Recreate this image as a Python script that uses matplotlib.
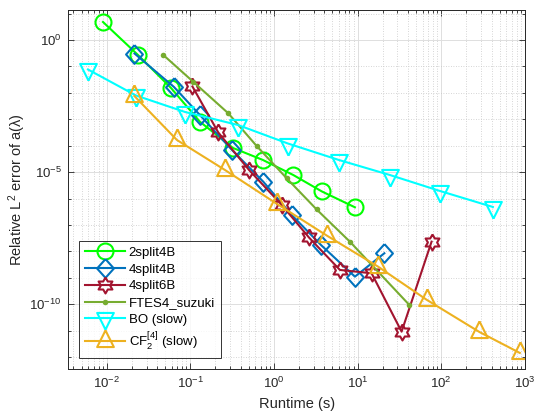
import numpy as np
import matplotlib
matplotlib.use('Agg')
import matplotlib.pyplot as plt
from matplotlib import ticker

plt.rcParams['font.family'] = ['Liberation Sans', 'DejaVu Sans']
plt.rcParams['mathtext.fontset'] = 'custom'
plt.rcParams['mathtext.rm'] = 'Liberation Sans'
plt.rcParams['mathtext.it'] = 'Liberation Sans:italic'
plt.rcParams['mathtext.bf'] = 'Liberation Sans:bold'

## DATA (runtime in s, relative error)
t_2split4B = [0.00903, 0.0237, 0.0587, 0.130, 0.324, 0.738, 1.70, 3.75, 9.29]
err_2split4B = [4.80, 0.270, 0.0153, 8.11e-4, 8.20e-5, 2.88e-5, 7.80e-6, 1.85e-6, 4.68e-7]

t_4split4B = [0.0215, 0.0637, 0.130, 0.315, 0.745, 1.63, 3.65, 9.29, 20.9]
err_4split4B = [0.308, 0.0167, 1.45e-3, 6.89e-5, 4.35e-6, 2.39e-7, 1.75e-8, 1.11e-9, 8.51e-9]

t_4split6B = [0.106, 0.216, 0.503, 1.24, 2.62, 6.15, 14.7, 33.6, 76.7]
err_4split6B = [0.0174, 3.16e-4, 1.21e-5, 5.71e-7, 3.37e-8, 1.99e-9, 1.49e-9, 9.19e-12, 2.34e-8]

t_ftes4 = [0.0475, 0.108, 0.284, 0.621, 1.42, 3.24, 8.09, 41.6]
err_ftes4 = [0.271, 0.0264, 1.69e-3, 9.75e-5, 5.85e-6, 3.86e-7, 2.34e-8, 9.4e-11]

t_bo = [0.00597, 0.0224, 0.0863, 0.371, 1.47, 5.98, 24.3, 96.4, 415]
err_bo = [0.0766, 7.94e-3, 1.89e-3, 6.08e-4, 1.21e-4, 2.88e-5, 7.80e-6, 1.94e-6, 4.80e-7]

t_cf = [0.0214, 0.0692, 0.259, 1.09, 4.36, 17.6, 67.4, 286, 871]
err_cf = [7.61e-3, 1.64e-4, 1.21e-5, 6.24e-7, 3.84e-8, 2.65e-9, 1.46e-10, 8.95e-12, 1.44e-12]

labels = ['2split4B', '4split4B', '4split6B', 'FTES4_suzuki', 'BO (slow)', r'CF$_2^{[4]}$ (slow)']

## MARKERS (matlab-like shapes, centroid at the data point, closed outlines)
ang = np.pi / 2 + np.arange(13) * np.pi / 6
rad = np.where(np.arange(13) % 2 == 0, 1.0, 1 / np.sqrt(3))
hexagram = list(zip(rad * np.cos(ang), rad * np.sin(ang)))
tri_up = [(0, 1), (-0.75, -0.5), (0.75, -0.5), (0, 1)]
tri_down = [(0, -1), (-0.75, 0.5), (0.75, 0.5), (0, -1)]
diamond = [(0, 1), (0.9, 0), (0, -1), (-0.9, 0), (0, 1)]

fig = plt.figure(figsize=(5.35, 4.2), dpi=100)
ax = fig.add_axes([0.128, 0.1214, 0.853, 0.8548])

lw = 1.5
ax.plot(t_2split4B, err_2split4B, color='#00FF00', lw=lw, marker='o', ms=11.5,
        mfc='none', mew=lw, label=labels[0])
ax.plot(t_4split4B, err_4split4B, color='#0072BD', lw=lw, marker=diamond, ms=13.5,
        mfc='none', mew=lw, label=labels[1])
ax.plot(t_4split6B, err_4split6B, color='#A2142F', lw=lw, marker=hexagram, ms=11.5,
        mfc='none', mew=lw, label=labels[2])
ax.plot(t_ftes4, err_ftes4, color='#77AC30', lw=lw, marker='o', ms=4,
        mfc='#77AC30', mew=0, label=labels[3])
ax.plot(t_bo, err_bo, color='#00FFFF', lw=lw, marker=tri_down, ms=16,
        mfc='none', mew=lw, label=labels[4])
ax.plot(t_cf, err_cf, color='#EDB120', lw=lw, marker=tri_up, ms=16,
        mfc='none', mew=lw, label=labels[5])

ax.set_xscale('log')
ax.set_yscale('log')
ax.set_xlim(10 ** -2.457, 1e3)
ax.set_ylim(10 ** -12.45, 10 ** 1.135)

ax.xaxis.set_major_locator(ticker.LogLocator(base=10, numticks=20))
ax.xaxis.set_minor_locator(ticker.LogLocator(base=10, subs=np.arange(2, 10), numticks=20))
ax.xaxis.set_minor_formatter(ticker.NullFormatter())
ax.yaxis.set_major_locator(ticker.LogLocator(base=1e5, numticks=20))
ax.yaxis.set_major_formatter(ticker.LogFormatterSciNotation(base=10))
ax.yaxis.set_minor_locator(ticker.LogLocator(base=10, subs=(1.0,), numticks=30))
ax.yaxis.set_minor_formatter(ticker.NullFormatter())

ax.grid(True, which='major', color='#dedede', lw=0.7, ls='-')
ax.grid(True, which='minor', color='#c8c8c8', lw=0.6, ls=(0, (1, 2)))
ax.set_axisbelow(True)

frame_color = '#262626'
for sp in ax.spines.values():
    sp.set_color(frame_color)
    sp.set_linewidth(0.7)
ax.tick_params(which='both', direction='in', top=True, right=True, colors=frame_color,
               labelsize=9.5, width=0.6)
ax.tick_params(which='major', length=4, pad=5)
ax.tick_params(which='minor', length=2.5)

ax.set_xlabel('Runtime (s)', fontsize=10.5, color=frame_color)
ax.set_ylabel('Relative L$^2$ error of a(λ)', fontsize=10.5, color=frame_color)
ax.yaxis.set_label_coords(-0.088, 0.5)

leg = ax.legend(loc='lower left', bbox_to_anchor=(0.0237, 0.0306), fontsize=9.5,
                frameon=True, fancybox=False, handlelength=3.0, labelspacing=0.34,
                borderpad=0.45, handletextpad=0.3, borderaxespad=0)
leg.get_frame().set_edgecolor('black')
leg.get_frame().set_linewidth(0.7)

fig.savefig('out.png', dpi=100)
